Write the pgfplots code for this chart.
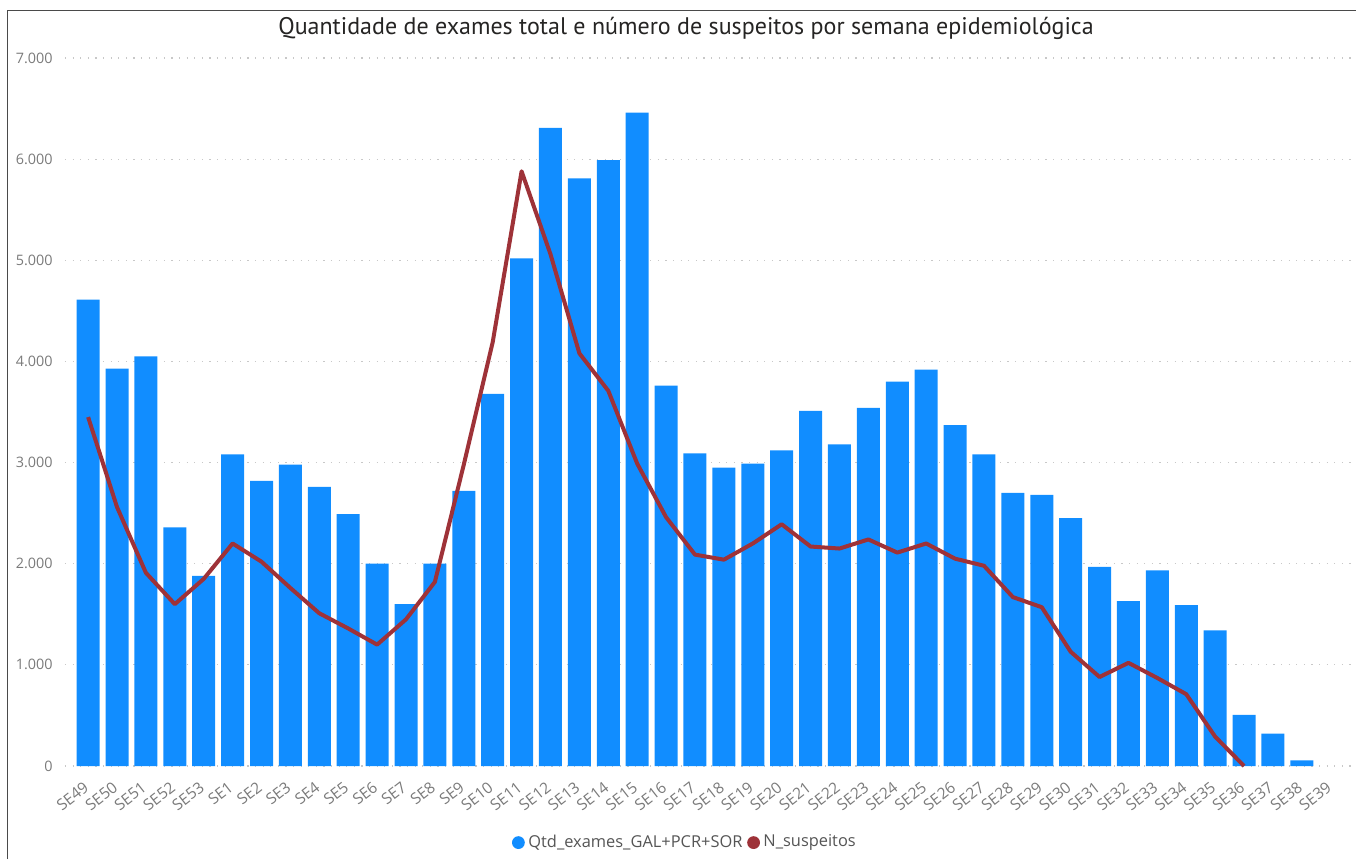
\documentclass[border=0pt]{standalone}
\usepackage{pgfplots}
\pgfplotsset{compat=1.18}
\usepackage{fontspec}
\setmainfont{Open Sans}
\newfontfamily\titlefont{PT Sans}
\definecolor{barblue}{HTML}{118DFF}
\definecolor{linered}{HTML}{9E3238}
\definecolor{tickgray}{HTML}{7A7A7A}
\definecolor{gridgray}{HTML}{C8C8C8}
\definecolor{framegray}{HTML}{4A4A4A}
\definecolor{legtext}{HTML}{555555}
\definecolor{titlecol}{HTML}{252423}
\begin{document}
\begin{tikzpicture}[x=1pt,y=1pt]
\path[use as bounding box] (0,0) rectangle (678,429.5);
\draw[framegray, line width=0.8pt] (3.8,0) -- (3.8,424.2) -- (678,424.2);
\begin{axis}[
  at={(32.5pt,46.5pt)}, anchor=south west,
  scale only axis, width=645.3pt, height=354pt,
  xmin=-0.8, xmax=43.86, ymin=0, ymax=7000,
  axis line style={draw=none}, tick style={draw=none},
  ymajorgrids, grid style={gridgray, line width=0.6pt, dash pattern=on 0.6pt off 3.2pt},
  ytick={0,1000,...,7000},
  /pgf/number format/assume math mode=true,
  /pgf/number format/1000 sep={.},
  yticklabel style={font=\fontsize{7.2}{8}\selectfont, text=tickgray, anchor=east, inner sep=0pt, xshift=-6pt},
  xtick={0,...,43},
  xticklabels={SE49,SE50,SE51,SE52,SE53,SE1,SE2,SE3,SE4,SE5,SE6,SE7,SE8,SE9,SE10,SE11,SE12,SE13,SE14,SE15,SE16,SE17,SE18,SE19,SE20,SE21,SE22,SE23,SE24,SE25,SE26,SE27,SE28,SE29,SE30,SE31,SE32,SE33,SE34,SE35,SE36,SE37,SE38,SE39},
  xticklabel style={font=\fontsize{7.8}{8}\selectfont, text=tickgray, rotate=38, anchor=north east, inner sep=0pt, xshift=-6.5pt, yshift=-4pt},
  clip=false,
]
\addplot[ybar, bar width=11.5pt, fill=barblue, draw=none] coordinates {
(0,4610) (1,3930) (2,4050) (3,2360) (4,1880) (5,3080) (6,2820) (7,2980) (8,2760) (9,2490)
(10,2000) (11,1600) (12,2000) (13,2720) (14,3680) (15,5020) (16,6310) (17,5810) (18,5990) (19,6460)
(20,3760) (21,3090) (22,2950) (23,2990) (24,3120) (25,3510) (26,3180) (27,3540) (28,3800) (29,3920)
(30,3370) (31,3080) (32,2700) (33,2680) (34,2450) (35,1970) (36,1630) (37,1935) (38,1590) (39,1340)
(40,505) (41,320) (42,55)
};
\addplot[sharp plot, linered, line width=2pt, line join=round, mark=none] coordinates {
(0,3450) (1,2560) (2,1910) (3,1600) (4,1850) (5,2200) (6,2020) (7,1760) (8,1510) (9,1360)
(10,1200) (11,1450) (12,1820) (13,2980) (14,4190) (15,5880) (16,5060) (17,4080) (18,3710) (19,2990)
(20,2460) (21,2090) (22,2040) (23,2200) (24,2390) (25,2170) (26,2150) (27,2240) (28,2110) (29,2200)
(30,2050) (31,1980) (32,1670) (33,1570) (34,1130) (35,880) (36,1020) (37,870) (38,710) (39,290)
(40,0)
};
\end{axis}
\node[font=\titlefont\fontsize{12}{14}\selectfont, text=titlecol] at (343,415.5) {Quantidade de exames total e número de suspeitos por semana epidemiológica};
\fill[barblue] (259.2,8.2) circle (3.2pt);
\node[anchor=west, inner sep=0pt, font=\fontsize{8.2}{9}\selectfont, text=legtext] at (264,8.2) {Qtd\_exames\_GAL+PCR+SOR};
\fill[linered] (376.8,8.2) circle (3.2pt);
\node[anchor=west, inner sep=0pt, font=\fontsize{8.2}{9}\selectfont, text=legtext] at (381.5,8.2) {N\_suspeitos};
\end{tikzpicture}
\end{document}
